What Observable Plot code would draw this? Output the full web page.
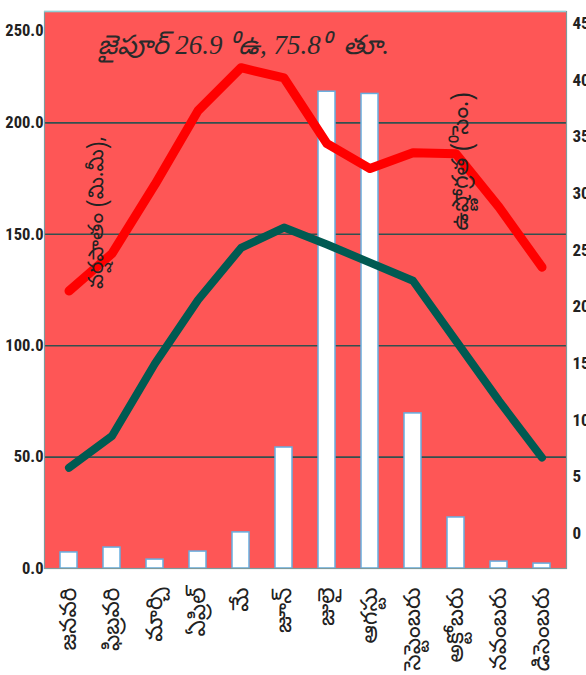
<!DOCTYPE html>
<html><head><meta charset="utf-8">
<script src="https://cdn.jsdelivr.net/npm/d3@7"></script>
<script src="https://cdn.jsdelivr.net/npm/@observablehq/plot@0.6"></script>
<style>
body{margin:0;background:#fff}
#chart svg{overflow:visible}
</style>
</head><body><div id="chart"></div>
<script>
const months = ["జనవరి","ఫిబ్రవరి","మార్చి","ఏప్రిల్","మే","జూన్","జులై","ఆగస్టు","సెప్టెంబరు","అక్టోబరు","నవంబరు","డిసెంబరు"];
const rainfall = [7.2, 9.4, 4.0, 7.6, 16.2, 54.3, 214, 213, 69.6, 22.9, 3.1, 2.2];
const maxTemp = [21.4, 24.7, 30.8, 37.3, 41.1, 40.2, 34.4, 32.2, 33.6, 33.5, 28.8, 23.5];
const minTemp = [5.8, 8.6, 15.0, 20.6, 25.2, 27.0, 25.5, 23.9, 22.3, 17.0, 11.7, 6.7];
const rainTicks = [0, 50, 100, 150, 200];
const rainTopTick = [250];
const tempTicks = [0, 5, 10, 15, 20, 25, 30, 35, 40, 45];
const title = "జైపూర్ 26.9 ⁰ఉ, 75.8⁰  తూ.";
const rainLabel = "వర్షపాతం (మి.మీ),";
const tempLabel = "ఉష్ణోగ్రత (⁰సెం.)";

const teluguFont = "'Noto Sans Telugu','Noto Serif Telugu','Lohit Telugu',sans-serif";
const titleFont = "'Liberation Serif','Noto Sans Telugu','Noto Serif Telugu',serif";
const numFont = "'Roboto Condensed','Liberation Sans Narrow','Roboto',sans-serif";

// right (temperature) axis expressed in left-axis (rainfall) units
const tempToRain = d3.scaleLinear().domain([0, 45]).range([15.7, 244.6]);

const rows = months.map((m, i) => ({month: m, rain: rainfall[i], tmax: maxTemp[i], tmin: minTemp[i]}));

const chart = Plot.plot({
  width: 586,
  height: 675,
  marginLeft: 44,
  marginRight: 20,
  marginTop: 11,
  marginBottom: 107,
  x: {domain: months, padding: 0, axis: null},
  y: {domain: [0, 250], axis: null},
  style: {background: "#fff"},
  marks: [
    Plot.frame({fill: "#fe5656"}),
    Plot.ruleY([50, 100, 150, 200], {stroke: "#33504f", strokeWidth: 1.6}),
    Plot.barY(rows, {x: "month", y: "rain", fill: "#ffffff", stroke: "#66aee0", strokeWidth: 1.5, insetLeft: 13, insetRight: 13}),
    Plot.line(rows, {x: "month", y: d => tempToRain(d.tmax), stroke: "#ff0000", strokeWidth: 9, strokeLinejoin: "round", strokeLinecap: "round"}),
    Plot.line(rows, {x: "month", y: d => tempToRain(d.tmin), stroke: "#005a52", strokeWidth: 8, strokeLinejoin: "round", strokeLinecap: "round"}),
    Plot.frame({stroke: "#7f9a9c", strokeWidth: 1.2}),
    Plot.ruleY([250], {stroke: "#8fd0d6", strokeWidth: 1.5}),
    Plot.axisY({anchor: "left", ticks: rainTicks, tickFormat: d3.format(".1f"), tickSize: 0, tickPadding: 1, label: null, fontSize: 16.5, fontWeight: "bold", fontFamily: numFont, fill: "#222"}),
    Plot.axisY({anchor: "left", ticks: rainTopTick, tickFormat: d3.format(".1f"), tickSize: 0, tickPadding: 1, dy: 19, label: null, fontSize: 16.5, fontWeight: "bold", fontFamily: numFont, fill: "#222"}),
    Plot.axisY({anchor: "right", ticks: tempTicks.map(t => tempToRain(t)), tickFormat: v => String(Math.round(tempToRain.invert(v))), tickSize: 0, tickPadding: 6, label: null, fontSize: 17, fontWeight: "bold", fontFamily: numFont, fill: "#222"}),
    Plot.axisX({anchor: "bottom", tickRotate: -90, tickSize: 0, tickPadding: 19, label: null, fontSize: 23, fontFamily: teluguFont, fill: "#222"}),
    Plot.text([title], {frameAnchor: "top-left", dx: 53, dy: 42, textAnchor: "start", lineAnchor: "bottom", fontSize: 27, fontStyle: "italic", fontFamily: titleFont, fill: "#2a2a2a"}),
    Plot.text([rainLabel], {frameAnchor: "top-left", dx: 52, dy: 201, rotate: -90, textAnchor: "middle", lineAnchor: "middle", fontSize: 21, fontFamily: teluguFont, fill: "#222"}),
    Plot.text([tempLabel], {frameAnchor: "top-left", dx: 416, dy: 150, rotate: -90, textAnchor: "middle", lineAnchor: "middle", fontSize: 23, fontFamily: teluguFont, fill: "#222"})
  ]
});
document.getElementById("chart").appendChild(chart);
</script>
</body></html>
